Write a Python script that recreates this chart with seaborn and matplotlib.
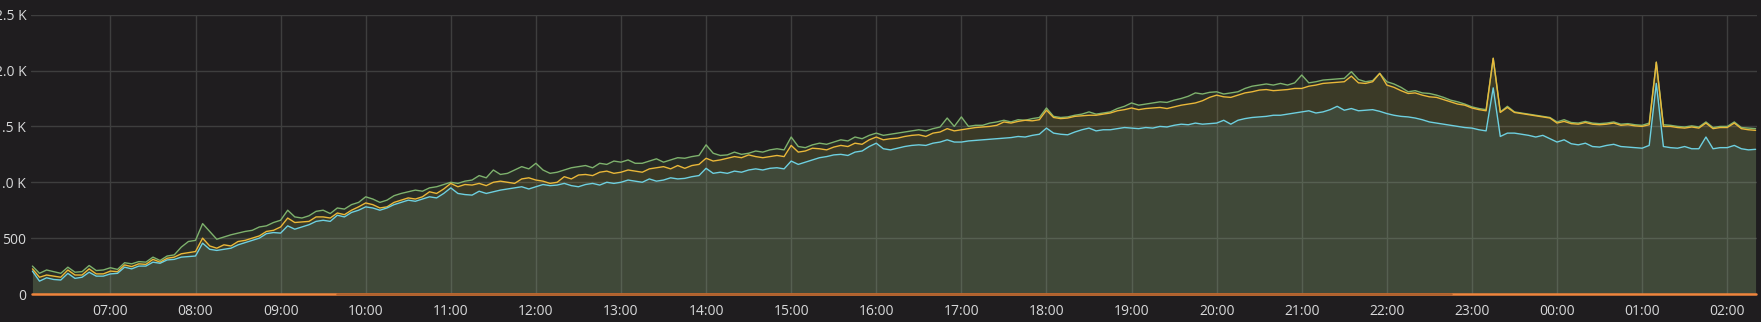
import numpy as np
import pandas as pd
import matplotlib
matplotlib.use("Agg")
import matplotlib.pyplot as plt
import matplotlib.dates as mdates
import seaborn as sns

# ---- data (5-minute samples, 06:05 -> 02:20) ----
start_time = "2017-01-01 06:05"

green = [
    250, 185, 215, 200, 185, 240, 195, 200, 255, 210, 215,
    235, 220, 280, 270, 290, 285, 330, 300, 340, 350, 420, 470,
    480, 630, 560, 490, 510, 530, 545, 560, 570, 600, 610, 640,
    660, 750, 690, 680, 700, 740, 750, 720, 770, 760, 800, 820,
    870, 850, 820, 840, 880, 900, 915, 930, 920, 950, 960, 980,
    1000, 990, 1010, 1020, 1060, 1040, 1110, 1070, 1080, 1110, 1140, 1120,
    1170, 1110, 1080, 1090, 1110, 1130, 1140, 1150, 1130, 1170, 1160, 1190,
    1180, 1200, 1170, 1170, 1190, 1210, 1180, 1200, 1220, 1215, 1230, 1240,
    1335, 1260, 1240, 1245, 1270, 1250, 1260, 1280, 1270, 1290, 1300, 1290,
    1405, 1320, 1310, 1335, 1350, 1340, 1360, 1380, 1370, 1405, 1390, 1420,
    1440, 1420, 1430, 1440, 1450, 1460, 1470, 1460, 1480, 1495, 1575, 1500,
    1585, 1500, 1510, 1510, 1530, 1540, 1555, 1540, 1560, 1555, 1570, 1580,
    1665, 1590, 1580, 1585, 1600, 1610, 1630, 1610, 1620, 1630, 1660, 1680,
    1710, 1690, 1700, 1710, 1720, 1715, 1735, 1750, 1770, 1800, 1790, 1805,
    1810, 1790, 1800, 1810, 1840, 1860, 1870, 1880, 1870, 1885, 1870, 1890,
    1960, 1890, 1900, 1915, 1920, 1925, 1930, 1990, 1920, 1900, 1910, 1975,
    1900, 1880, 1850, 1810, 1820, 1800, 1795, 1780, 1760, 1735, 1720, 1700,
    1675, 1660, 1650, 2110, 1630, 1680, 1630, 1620, 1610, 1600, 1590, 1580,
    1540, 1560, 1535, 1530, 1545, 1530, 1525, 1530, 1540, 1520, 1525, 1515,
    1510, 1530, 2075, 1515, 1510, 1500, 1495, 1505, 1495, 1540, 1490, 1500,
    1500, 1540, 1490, 1485, 1480,
]

yellow = [
    225, 150, 170, 160, 150, 215, 170, 170, 225, 180, 180,
    205, 200, 260, 245, 270, 265, 310, 285, 320, 330, 360, 370,
    380, 500, 430, 410, 440, 430, 470, 480, 500, 520, 560, 570,
    600, 680, 640, 645, 650, 690, 690, 680, 725, 710, 750, 780,
    815, 800, 770, 780, 820, 840, 860, 850, 870, 915, 900, 940,
    990, 960, 980, 975, 990, 970, 1000, 1010, 1000, 990, 1030, 1040,
    1020, 1010, 990, 1000, 1050, 1030, 1065, 1070, 1060, 1090, 1100, 1080,
    1090, 1110, 1100, 1090, 1120, 1130, 1140, 1120, 1150, 1125, 1150, 1160,
    1215, 1190, 1200, 1215, 1230, 1220, 1245, 1230, 1220, 1230, 1240, 1230,
    1330, 1270, 1280, 1305, 1300, 1290, 1315, 1330, 1320, 1350, 1340, 1380,
    1405, 1380, 1390, 1395, 1410, 1420, 1425, 1410, 1440, 1450, 1480, 1460,
    1470, 1480, 1490, 1495, 1500, 1510, 1540, 1530, 1545, 1555, 1550, 1560,
    1645, 1580, 1570, 1575, 1590, 1595, 1600, 1600, 1610, 1620, 1640, 1650,
    1665, 1650, 1660, 1665, 1670, 1660, 1675, 1690, 1700, 1710, 1730, 1760,
    1780, 1765, 1760, 1780, 1800, 1810, 1825, 1830, 1820, 1825, 1830, 1840,
    1840, 1860, 1870, 1885, 1890, 1895, 1900, 1950, 1890, 1885, 1900, 1975,
    1870, 1850, 1820, 1795, 1800, 1780, 1765, 1760, 1740, 1720, 1700, 1690,
    1665, 1650, 1640, 2110, 1625, 1670, 1625, 1615, 1605, 1595, 1585, 1575,
    1530, 1545, 1525, 1520, 1535, 1520, 1515, 1520, 1530, 1510, 1515, 1505,
    1500, 1515, 2075, 1500, 1500, 1490, 1485, 1495, 1485, 1530, 1480, 1490,
    1490, 1530, 1480, 1470, 1465,
]

cyan = [
    205, 115, 145, 130, 125, 185, 140, 150, 195, 160, 160,
    180, 185, 240, 225, 250, 250, 285, 275, 305, 310, 330, 335,
    340, 455, 400, 390, 400, 410, 440, 460, 480, 500, 540, 550,
    545, 610, 580, 600, 620, 650, 660, 650, 705, 690, 730, 750,
    780, 770, 750, 770, 800, 820, 840, 830, 850, 870, 860, 900,
    950, 900, 890, 885, 920, 900, 915, 930, 940, 950, 960, 940,
    960, 980, 970, 975, 990, 970, 960, 980, 990, 975, 1000, 990,
    1000, 1020, 1010, 1000, 1030, 1010, 1020, 1040, 1030, 1035, 1050, 1060,
    1125, 1080, 1090, 1080, 1100, 1090, 1110, 1120, 1110, 1125, 1130, 1120,
    1190, 1160, 1180, 1200, 1220, 1230, 1245, 1250, 1240, 1270, 1280, 1320,
    1350, 1300, 1290, 1305, 1320, 1330, 1335, 1330, 1350, 1360, 1380, 1360,
    1360, 1370, 1375, 1380, 1385, 1390, 1395, 1400, 1410, 1405, 1420, 1430,
    1485, 1440, 1430, 1425, 1450, 1470, 1485, 1460, 1470, 1470, 1480, 1490,
    1485, 1480, 1490, 1485, 1500, 1495, 1510, 1520, 1515, 1530, 1520, 1525,
    1530, 1555, 1520, 1555, 1570, 1580, 1585, 1590, 1600, 1600, 1610, 1620,
    1630, 1640, 1620, 1630, 1650, 1680, 1645, 1660, 1640, 1645, 1650, 1635,
    1615, 1600, 1590, 1585, 1575, 1560, 1540, 1530, 1520, 1510, 1500, 1490,
    1485, 1470, 1460, 1845, 1410, 1440, 1440, 1430, 1420, 1405, 1420, 1390,
    1360, 1380, 1345, 1335, 1350, 1320, 1315, 1330, 1340, 1320, 1315, 1310,
    1305, 1330, 1885, 1320, 1310, 1305, 1320, 1300, 1300, 1405, 1300, 1310,
    1310, 1330, 1300, 1290, 1295,
]

# zero-valued series (orange) and the darker overlapping zero series window
dark_zero_window = ["2017-01-01 09:40", "2017-01-01 22:45"]

y_ticks = [0, 500, 1000, 1500, 2000, 2500]
y_tick_labels = ["0", "500", "1.0 K", "1.5 K", "2.0 K", "2.5 K"]

# ---- build frame ----
times = pd.date_range(start_time, periods=len(green), freq="5min")
df = pd.DataFrame({"time": times, "green": green, "yellow": yellow,
                   "cyan": cyan, "orange": np.zeros(len(green))})
dark_mask = (df["time"] >= pd.Timestamp(dark_zero_window[0])) & \
            (df["time"] <= pd.Timestamp(dark_zero_window[1]))
df["dark"] = np.where(dark_mask, 0.0, np.nan)

BG = "#1f1d1f"
sns.set_theme(style="dark")
plt.rcParams["font.family"] = ["Open Sans", "DejaVu Sans"]

fig = plt.figure(figsize=(17.61, 3.22), dpi=100, facecolor=BG)
ax = fig.add_axes([31 / 1761, 1 - 294 / 322, (1757 - 31) / 1761, (294 - 14.7) / 322])
ax.set_facecolor(BG)

colors = {"green": "#7EB26D", "yellow": "#EAB839", "cyan": "#6ED0E0"}
for name in ["green", "yellow", "cyan"]:
    ax.fill_between(df["time"], 0, df[name], color=colors[name], alpha=0.1, lw=0, zorder=2)
for name in ["green", "yellow", "cyan"]:
    sns.lineplot(data=df, x="time", y=name, ax=ax, color=colors[name], lw=1.0, zorder=3)
l1 = sns.lineplot(data=df, x="time", y="orange", ax=ax, color="#EF843C", lw=1.8, zorder=4)
l2 = sns.lineplot(data=df, x="time", y="dark", ax=ax, color="#B0612E", lw=1.8, zorder=5)
for ln in ax.lines[-2:]:
    ln.set_clip_on(False)

ax.set_ylim(0, 2500)
ax.set_xlim(pd.Timestamp("2017-01-01 06:04"), pd.Timestamp("2017-01-02 02:21"))
ax.set_yticks(y_ticks)
ax.set_yticklabels(y_tick_labels)
ax.xaxis.set_major_locator(mdates.HourLocator())
ax.xaxis.set_major_formatter(mdates.DateFormatter("%H:%M"))
ax.set_xlabel("")
ax.set_ylabel("")

ax.grid(True, color="#3e3e3e", lw=1.0, zorder=1)
ax.set_axisbelow(True)
for s in ax.spines.values():
    s.set_visible(False)
ax.tick_params(axis="both", length=0, colors="#d8d9da", labelsize=10)
ax.tick_params(axis="y", pad=3.5)
ax.tick_params(axis="x", pad=7)

fig.savefig("out.png", dpi=100, facecolor=BG)
